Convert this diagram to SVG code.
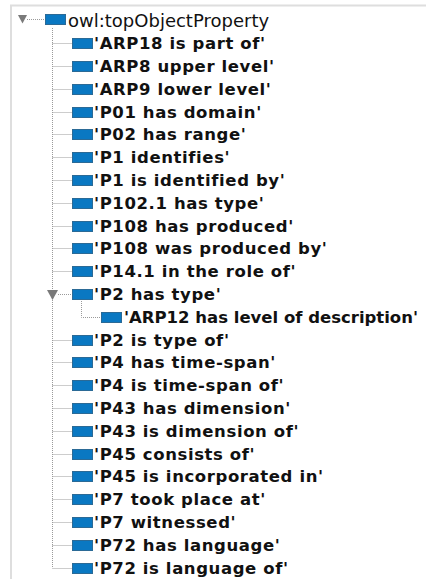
<svg xmlns="http://www.w3.org/2000/svg" width="426" height="579" viewBox="0 0 426 579">
<style>
.t{font-family:"DejaVu Sans",Verdana,sans-serif;font-size:16.5px;font-weight:bold;fill:#111;letter-spacing:0.6px}
.r{font-family:"DejaVu Sans",Verdana,sans-serif;font-size:18px;fill:#111}
.ic{fill:#0a78c2;stroke:#2b6a96;stroke-width:1}
.d{stroke:#9a9a9a;stroke-width:1;stroke-dasharray:1 1;fill:none}
.tri{fill:#7a7a7a}
</style>
<rect width="426" height="579" fill="#fff"/>
<path d="M11 579V5.5H426" fill="none" stroke="#dedede" stroke-width="2"/>
<g id="connectors">
<path class="d" d="M27 19.5H45"/>
<path class="d" d="M52.5 28V568"/>
<path class="d" d="M52.5 43.5H72M52.5 66.5H72M52.5 89.5H72M52.5 112.5H72M52.5 134.5H72M52.5 157.5H72M52.5 180.5H72M52.5 203.5H72M52.5 226.5H72M52.5 248.5H72M52.5 271.5H72M58 294.5H72M52.5 340.5H72M52.5 362.5H72M52.5 385.5H72M52.5 408.5H72M52.5 431.5H72M52.5 454.5H72M52.5 476.5H72M52.5 499.5H72M52.5 522.5H72M52.5 545.5H72M52.5 568.5H72"/>
<path class="d" d="M81.5 301V317.5H100"/>
</g>
<g id="n0"><polygon class="tri" points="18,15 27,15 22.5,23.5"/><rect class="ic" x="45.5" y="14.5" width="20" height="10"/><text class="r" x="68" y="27">owl:topObjectProperty</text></g>
<g id="n1"><rect class="ic" x="72.5" y="38.5" width="20" height="10"/><text class="t" x="94" y="49">'ARP18 is part of'</text></g>
<g id="n2"><rect class="ic" x="72.5" y="61.5" width="20" height="10"/><text class="t" x="94" y="72">'ARP8 upper level'</text></g>
<g id="n3"><rect class="ic" x="72.5" y="84.5" width="20" height="10"/><text class="t" x="94" y="95">'ARP9 lower level'</text></g>
<g id="n4"><rect class="ic" x="72.5" y="107.5" width="20" height="10"/><text class="t" x="94" y="118">'P01 has domain'</text></g>
<g id="n5"><rect class="ic" x="72.5" y="129.5" width="20" height="10"/><text class="t" x="94" y="140">'P02 has range'</text></g>
<g id="n6"><rect class="ic" x="72.5" y="152.5" width="20" height="10"/><text class="t" x="94" y="163">'P1 identifies'</text></g>
<g id="n7"><rect class="ic" x="72.5" y="175.5" width="20" height="10"/><text class="t" x="94" y="186">'P1 is identified by'</text></g>
<g id="n8"><rect class="ic" x="72.5" y="198.5" width="20" height="10"/><text class="t" x="94" y="209">'P102.1 has type'</text></g>
<g id="n9"><rect class="ic" x="72.5" y="221.5" width="20" height="10"/><text class="t" x="94" y="232">'P108 has produced'</text></g>
<g id="n10"><rect class="ic" x="72.5" y="243.5" width="20" height="10"/><text class="t" x="94" y="254">'P108 was produced by'</text></g>
<g id="n11"><rect class="ic" x="72.5" y="266.5" width="20" height="10"/><text class="t" x="94" y="277">'P14.1 in the role of'</text></g>
<g id="n12"><polygon class="tri" points="47,290 58,290 52.5,300"/><rect class="ic" x="72.5" y="289.5" width="20" height="10"/><text class="t" x="94" y="300">'P2 has type'</text></g>
<g id="n13"><rect class="ic" x="101.5" y="312.5" width="20" height="10"/><text class="t" x="124" y="323" style="letter-spacing:0" textLength="294">'ARP12 has level of description'</text></g>
<g id="n14"><rect class="ic" x="72.5" y="335.5" width="20" height="10"/><text class="t" x="94" y="346">'P2 is type of'</text></g>
<g id="n15"><rect class="ic" x="72.5" y="357.5" width="20" height="10"/><text class="t" x="94" y="368">'P4 has time-span'</text></g>
<g id="n16"><rect class="ic" x="72.5" y="380.5" width="20" height="10"/><text class="t" x="94" y="391">'P4 is time-span of'</text></g>
<g id="n17"><rect class="ic" x="72.5" y="403.5" width="20" height="10"/><text class="t" x="94" y="414">'P43 has dimension'</text></g>
<g id="n18"><rect class="ic" x="72.5" y="426.5" width="20" height="10"/><text class="t" x="94" y="437">'P43 is dimension of'</text></g>
<g id="n19"><rect class="ic" x="72.5" y="449.5" width="20" height="10"/><text class="t" x="94" y="460">'P45 consists of'</text></g>
<g id="n20"><rect class="ic" x="72.5" y="471.5" width="20" height="10"/><text class="t" x="94" y="482">'P45 is incorporated in'</text></g>
<g id="n21"><rect class="ic" x="72.5" y="494.5" width="20" height="10"/><text class="t" x="94" y="505">'P7 took place at'</text></g>
<g id="n22"><rect class="ic" x="72.5" y="517.5" width="20" height="10"/><text class="t" x="94" y="528">'P7 witnessed'</text></g>
<g id="n23"><rect class="ic" x="72.5" y="540.5" width="20" height="10"/><text class="t" x="94" y="551">'P72 has language'</text></g>
<g id="n24"><rect class="ic" x="72.5" y="563.5" width="20" height="10"/><text class="t" x="94" y="574">'P72 is language of'</text></g>
</svg>
